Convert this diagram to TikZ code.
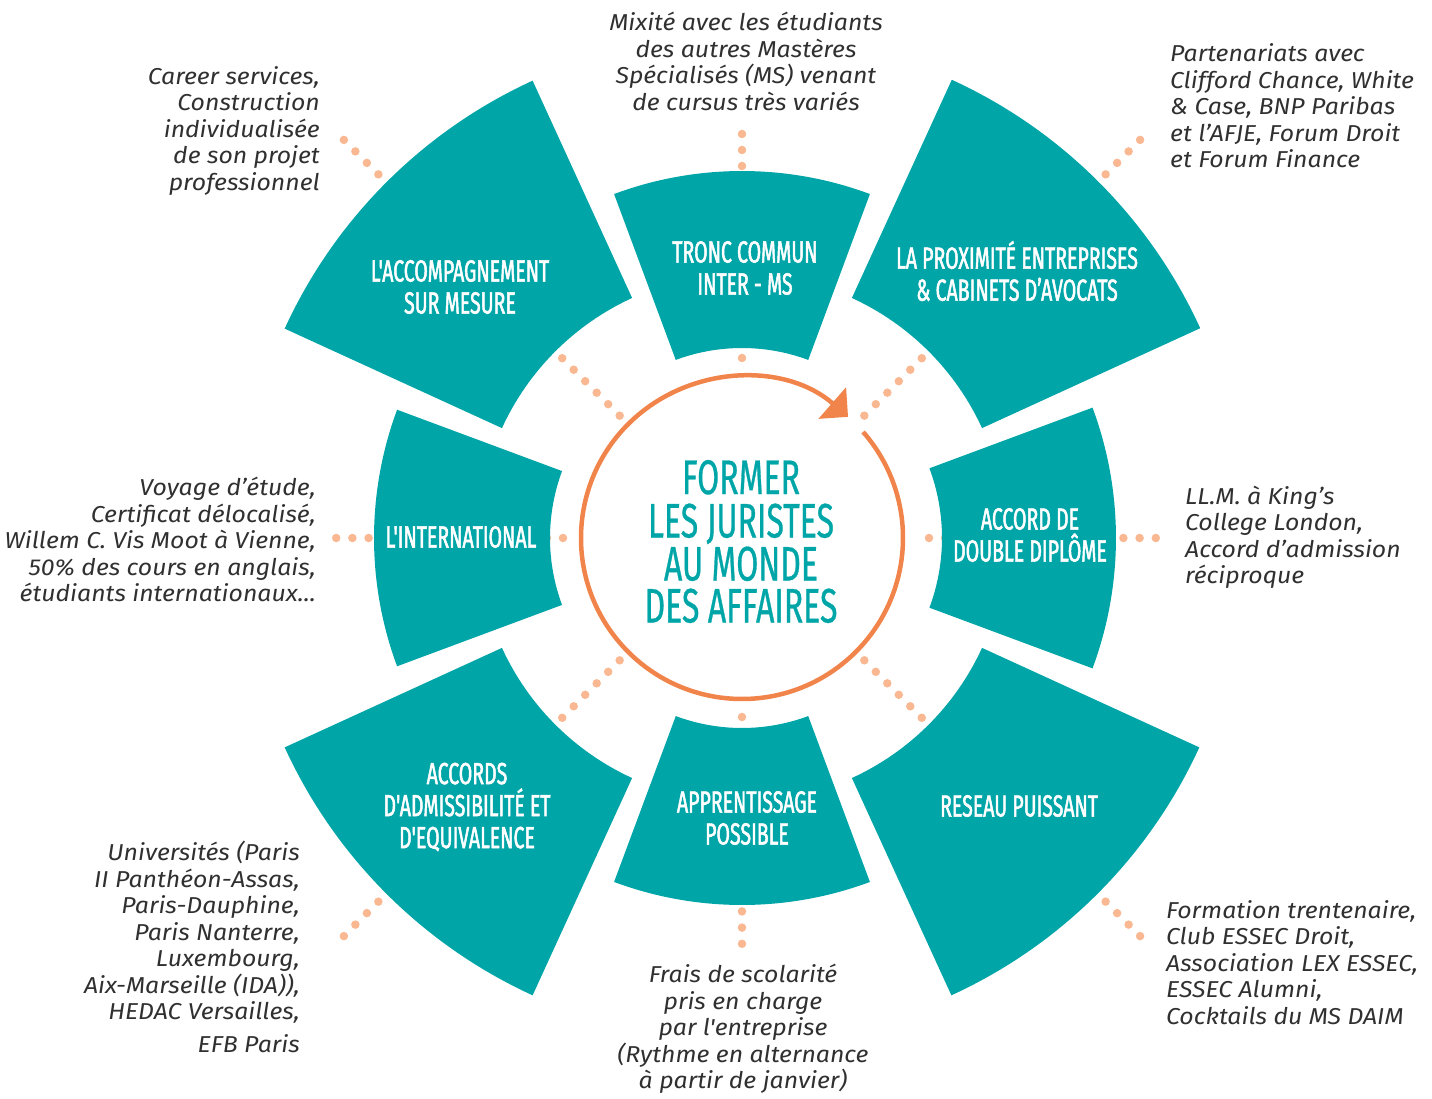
\documentclass[tikz,border=0pt]{standalone}
\usepackage{fontspec}
\usetikzlibrary{arrows.meta}
\newfontfamily\condfont[FakeStretch=0.64,FakeBold=1.6,Ligatures=TeXOff]{Fira Sans}
\newfontfamily\corefont[FakeStretch=0.66,FakeBold=0.6,Ligatures=TeXOff]{Fira Sans}
\newfontfamily\descfont[FakeStretch=1.08,Ligatures=TeXOff]{Fira Sans}
\definecolor{segteal}{HTML}{00A5A8}
\definecolor{ringorange}{HTML}{F0844A}
\definecolor{dotpeach}{HTML}{F9B892}
\definecolor{txtdark}{HTML}{303030}
\tikzset{
  segfill/.style={fill=segteal},
  seglabel/.style={text=white, align=center, inner sep=0pt, font=\condfont\fontsize{30.5}{32}\selectfont},
  corelabel/.style={text=segteal, inner sep=0pt, text height=33pt, text depth=0pt, font=\corefont\fontsize{48.5}{42.5}\selectfont},
  desc/.style={text=txtdark, inner sep=0pt, font=\descfont\itshape\fontsize{23}{26.5}\selectfont},
  dotline/.style={draw=dotpeach, line width=8.5pt, line cap=round, dash pattern=on 0pt off #1},
  dotline/.default=16.25pt,
}
\newcommand{\ringseg}[3]{%
  \pgfmathsetmacro{\segA}{#1-20.4}%
  \pgfmathsetmacro{\segB}{#1+20.4}%
  \fill[segfill] (\segA:#2) arc[start angle=\segA, end angle=\segB, radius=#2]
    -- (\segB:#3) arc[start angle=\segB, end angle=\segA, radius=#3] -- cycle;}
\begin{document}
\begin{tikzpicture}[x=1pt,y=1pt]
\useasboundingbox (-742,-560) rectangle (690,538);
% dotted connectors (behind the segments)
\foreach \a/\n/\s/\p in {90/n/180/16,0/e/187/16.2,-90/s/179/16.2,180/w/179/16.2}{
  \pgfmathsetmacro{\dotend}{\s+14*\p+0.6}
  \coordinate (in-\n) at (\a:\s);
  \coordinate (out-\n) at (\a:\dotend);
  \draw[dotline=\p pt] (in-\n) -- (out-\n);
}
\foreach \a/\n in {45/ne,135/nw,-45/se,-135/sw}{
  \coordinate (in-\n) at (\a:173);
  \coordinate (out-\n) at (\a:563.6);
  \draw[dotline=16.25pt] (in-\n) -- (out-\n);
}
% segments
\ringseg{90}{190}{367}
\ringseg{0}{200}{374}
\ringseg{-90}{190}{367}
\ringseg{180}{192}{368}
\ringseg{45}{264}{504}
\ringseg{135}{264}{503}
\ringseg{-45}{264}{503}
\ringseg{-135}{264}{503}
% segment labels
\node[seglabel] (l-n) at (3,270) {TRONC COMMUN\\INTER - MS};
\node[seglabel] (l-nw) at (-282,251) {L'ACCOMPAGNEMENT\\SUR MESURE};
\node[seglabel] (l-ne) at (275,267) {LA PROXIMITÉ ENTREPRISES\\\& CABINETS D’AVOCATS};
\node[seglabel] (l-w) at (-281,1) {L'INTERNATIONAL};
\node[seglabel] (l-e) at (288,3) {ACCORD DE\\DOUBLE DIPLÔME};
\node[seglabel] (l-sw) at (-275,-269) {ACCORDS\\D'ADMISSIBILITÉ ET\\D'EQUIVALENCE};
\node[seglabel] (l-s) at (5,-280) {APPRENTISSAGE\\POSSIBLE};
\node[seglabel] (l-se) at (277,-268) {RESEAU PUISSANT};
% central ring with arrow
\draw[ringorange, line width=4.5pt, -{Triangle[length=21pt,width=41pt]}]
  (41.2:161) arc[start angle=41.2, end angle=-311.2, radius=161];
\node[corelabel] (core1) at (-1,60.5) {FORMER};
\node[corelabel] (core2) at (-1,17) {LES JURISTES};
\node[corelabel] (core3) at (-1,-26) {AU MONDE};
\node[corelabel] (core4) at (-1,-68) {DES AFFAIRES};
% descriptions
\node[desc, align=center] (d-n) at (4,476.5) {Mixité avec les étudiants\\des autres Mastères\\Spécialisés (MS) venant\\de cursus très variés};
\node[desc, align=right, anchor=east] (d-nw) at (-422,407) {Career services,\\Construction\\individualisée\\de son projet\\professionnel};
\node[desc, align=left, anchor=west] (d-ne) at (428,432) {Partenariats avec\\Clifford Chance, White\\\& Case, BNP Paribas\\et l’AFJE, Forum Droit\\et Forum Finance};
\node[desc, align=right, anchor=east] (d-w) at (-426,-1.5) {Voyage d’étude,\\Certificat délocalisé,\\Willem C. Vis Moot à Vienne,\\50\% des cours en anglais,\\étudiants internationaux...};
\node[desc, align=left, anchor=west] (d-e) at (443,0.5) {LL.M. à King’s\\College London,\\Accord d’admission\\réciproque};
\node[desc, align=right, anchor=east] (d-sw) at (-442,-409) {Universités (Paris\\II Panthéon-Assas,\\Paris-Dauphine,\\Paris Nanterre,\\Luxembourg,\\Aix-Marseille (IDA)),\\HEDAC Versailles,\\[6pt]EFB Paris};
\node[desc, align=center] (d-s) at (1,-491) {Frais de scolarité\\pris en charge\\par l'entreprise\\(Rythme en alternance\\à partir de janvier)};
\node[desc, align=left, anchor=west] (d-se) at (424,-424.5) {Formation trentenaire,\\Club ESSEC Droit,\\Association LEX ESSEC,\\ESSEC Alumni,\\Cocktails du MS DAIM};
\end{tikzpicture}
\end{document}
